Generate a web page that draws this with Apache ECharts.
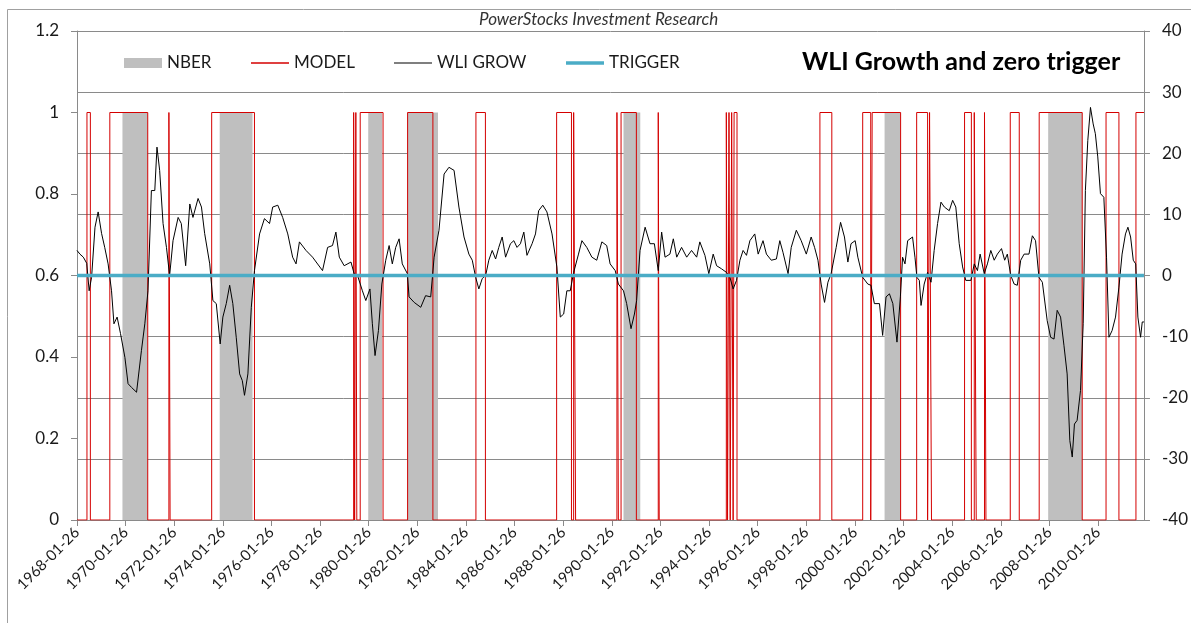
<!DOCTYPE html>
<html>
<head>
<meta charset="utf-8">
<script src="https://cdn.jsdelivr.net/npm/echarts@6/dist/echarts.min.js"></script>
<style>
html,body{margin:0;padding:0;background:#fff;}
#chart{width:1191px;height:623px;}
</style>
</head>
<body>
<div id="chart"></div>
<script>
// ---- DATA ----
const X0 = 1968.07;      // 1968-01-26 as a decimal year (axis start)
const X_END = 2011.96;   // last data point
const tickLabels = ['1968-01-26','1970-01-26','1972-01-26','1974-01-26','1976-01-26','1978-01-26',
  '1980-01-26','1982-01-26','1984-01-26','1986-01-26','1988-01-26','1990-01-26','1992-01-26',
  '1994-01-26','1996-01-26','1998-01-26','2000-01-26','2002-01-26','2004-01-26','2006-01-26',
  '2008-01-26','2010-01-26'];
const leftTicks = [0, 0.2, 0.4, 0.6, 0.8, 1, 1.2];
const rightTicks = [-40, -30, -20, -10, 0, 10, 20, 30, 40];

// NBER recessions [start, end] (decimal years), height 1 on left axis
const nberPeriods = [
  [1969.94, 1970.98], [1973.94, 1975.29], [1980.05, 1980.62], [1981.65, 1982.92],
  [1990.55, 1991.24], [2001.29, 2001.95], [2008.02, 2009.42]
];

// MODEL = 1 during these periods, 0 otherwise (left axis)
const modelOnPeriods = [
  [1968.48, 1968.62], [1969.42, 1970.98], [1971.85, 1971.90], [1973.61, 1975.37],
  [1979.45, 1979.49], [1979.54, 1979.58], [1979.72, 1980.66], [1981.67, 1982.71],
  [1984.48, 1984.87], [1987.80, 1988.41], [1988.50, 1988.58], [1990.28, 1990.34],
  [1990.45, 1991.08], [1991.98, 1992.02], [1994.78, 1994.83], [1994.89, 1994.94],
  [1995.00, 1995.06], [1995.10, 1995.22], [1998.63, 1999.12], [2000.39, 2000.72],
  [2000.78, 2001.95], [2002.61, 2003.06], [2003.14, 2003.22], [2004.58, 2004.86],
  [2004.98, 2005.06], [2005.40, 2005.46], [2006.46, 2006.83], [2007.65, 2009.42],
  [2010.40, 2010.93], [2011.63, 2011.96]
];

// WLI growth (right axis): [decimal year, value]
const wliGrow = [
  [1968.07,4.1],[1968.19,3.5],[1968.33,3.0],[1968.47,2.0],[1968.57,-2.5],[1968.67,-0.3],
  [1968.81,7.9],[1968.94,10.4],[1969.08,6.9],[1969.21,4.6],[1969.35,1.9],[1969.49,-2.5],
  [1969.59,-7.9],[1969.72,-6.8],[1969.86,-9.5],[1970.04,-13.4],[1970.17,-17.7],[1970.31,-18.3],
  [1970.52,-19.1],[1970.72,-12.3],[1970.86,-7.9],[1970.99,-2.5],[1971.13,13.9],[1971.27,13.9],
  [1971.36,21.0],[1971.47,17.2],[1971.61,8.5],[1971.75,4.6],[1971.88,0.0],[1972.02,5.7],
  [1972.23,9.5],[1972.36,8.5],[1972.54,1.6],[1972.71,11.7],[1972.84,9.5],[1973.05,12.6],
  [1973.19,11.2],[1973.32,6.9],[1973.53,1.9],[1973.66,-4.1],[1973.80,-4.6],[1973.96,-11.2],
  [1974.07,-6.8],[1974.21,-4.6],[1974.35,-1.6],[1974.48,-4.6],[1974.62,-10.1],[1974.76,-16.1],
  [1974.87,-17.2],[1974.96,-19.6],[1975.10,-16.1],[1975.24,-5.2],[1975.37,0.8],[1975.58,6.8],
  [1975.78,9.3],[1975.99,8.5],[1976.12,11.2],[1976.33,11.5],[1976.53,9.5],[1976.74,6.8],
  [1976.94,3.0],[1977.08,1.9],[1977.22,5.5],[1977.49,4.1],[1977.76,3.0],[1978.17,0.8],
  [1978.38,4.6],[1978.58,4.9],[1978.72,7.1],[1978.86,3.0],[1979.06,1.6],[1979.34,2.2],
  [1979.47,0.3],[1979.61,0.0],[1979.68,0.3],[1979.81,-2.5],[1979.95,-4.1],[1980.12,-2.2],
  [1980.22,-7.9],[1980.33,-13.1],[1980.47,-9.0],[1980.61,-1.4],[1980.77,2.5],[1980.91,4.9],
  [1981.04,1.9],[1981.18,4.6],[1981.32,6.0],[1981.45,1.9],[1981.66,0.3],[1981.73,-3.5],
  [1981.94,-4.4],[1982.21,-5.2],[1982.41,-3.3],[1982.62,-3.5],[1982.76,3.0],[1982.96,7.4],
  [1983.17,16.6],[1983.37,17.7],[1983.58,17.2],[1983.78,11.2],[1983.99,6.3],[1984.19,3.5],
  [1984.33,2.5],[1984.47,-0.3],[1984.60,-2.2],[1984.74,-0.5],[1984.88,0.0],[1985.01,2.5],
  [1985.15,4.1],[1985.29,2.7],[1985.42,4.6],[1985.56,6.3],[1985.70,3.0],[1985.90,5.2],
  [1986.04,5.7],[1986.17,4.6],[1986.31,5.2],[1986.45,7.1],[1986.58,3.3],[1986.79,5.2],
  [1986.93,6.8],[1987.06,10.6],[1987.23,11.5],[1987.40,10.4],[1987.61,6.8],[1987.81,1.4],
  [1987.95,-6.8],[1988.09,-6.3],[1988.22,-2.5],[1988.36,-2.5],[1988.50,0.5],[1988.70,3.5],
  [1988.84,5.7],[1989.04,4.6],[1989.25,3.0],[1989.45,2.5],[1989.66,5.5],[1989.86,4.9],
  [1990.00,1.9],[1990.21,0.8],[1990.34,-1.4],[1990.55,-2.5],[1990.68,-4.6],[1990.86,-8.7],
  [1991.00,-6.3],[1991.09,-4.1],[1991.23,4.1],[1991.44,7.9],[1991.64,5.2],[1991.82,5.2],
  [1991.98,0.8],[1992.12,7.1],[1992.26,3.0],[1992.46,3.5],[1992.60,6.0],[1992.74,3.0],
  [1992.94,4.6],[1993.15,3.0],[1993.35,4.1],[1993.56,3.0],[1993.69,5.5],[1993.90,3.3],
  [1994.06,0.3],[1994.24,3.5],[1994.38,1.6],[1994.58,1.1],[1994.79,0.5],[1994.93,-0.3],
  [1995.06,-2.2],[1995.20,-0.8],[1995.34,2.5],[1995.47,4.1],[1995.61,3.3],[1995.75,5.7],
  [1995.95,6.8],[1996.09,3.5],[1996.29,5.7],[1996.43,3.5],[1996.63,2.5],[1996.84,2.7],
  [1996.98,5.7],[1997.11,3.8],[1997.32,0.3],[1997.45,4.6],[1997.66,7.4],[1997.86,5.7],
  [1998.07,3.5],[1998.27,6.3],[1998.41,4.6],[1998.55,2.5],[1998.68,-1.4],[1998.82,-4.4],
  [1998.96,-1.1],[1999.09,0.3],[1999.30,4.6],[1999.48,8.7],[1999.64,6.3],[1999.78,2.2],
  [1999.91,5.2],[2000.08,5.7],[2000.19,3.0],[2000.39,-0.3],[2000.60,-1.4],[2000.73,-1.6],
  [2000.87,-4.6],[2001.08,-4.6],[2001.21,-9.8],[2001.35,-3.5],[2001.49,-3.0],[2001.63,-4.6],
  [2001.80,-10.9],[2001.94,-3.5],[2002.03,3.0],[2002.13,1.9],[2002.24,5.7],[2002.44,6.3],
  [2002.54,3.0],[2002.62,-0.3],[2002.72,-0.8],[2002.79,-4.9],[2002.92,-1.4],[2003.06,0.5],
  [2003.20,-1.1],[2003.33,4.1],[2003.47,8.5],[2003.61,12.0],[2003.75,11.2],[2003.95,10.6],
  [2004.09,12.3],[2004.22,11.2],[2004.36,5.2],[2004.50,1.4],[2004.63,-0.8],[2004.84,-0.8],
  [2004.98,1.9],[2005.11,0.8],[2005.22,3.5],[2005.39,0.3],[2005.52,1.9],[2005.66,4.1],
  [2005.80,2.5],[2005.93,3.5],[2006.10,4.4],[2006.23,2.5],[2006.34,3.5],[2006.48,0.0],
  [2006.62,-1.4],[2006.75,-1.6],[2006.89,2.5],[2007.03,3.5],[2007.23,3.5],[2007.37,6.5],
  [2007.50,5.7],[2007.64,-0.3],[2007.78,-1.1],[2007.98,-7.4],[2008.12,-10.1],[2008.26,-10.4],
  [2008.39,-5.7],[2008.53,-6.8],[2008.67,-11.5],[2008.80,-16.1],[2008.91,-27.0],[2009.01,-29.7],
  [2009.10,-24.3],[2009.21,-23.7],[2009.35,-18.8],[2009.46,-7.9],[2009.55,13.9],[2009.65,22.1],
  [2009.76,27.5],[2009.87,24.8],[2009.96,23.2],[2010.06,19.4],[2010.17,13.4],[2010.31,12.8],
  [2010.42,3.0],[2010.52,-10.1],[2010.65,-9.0],[2010.79,-6.8],[2010.93,-1.9],[2011.06,3.5],
  [2011.20,6.8],[2011.30,7.9],[2011.41,6.3],[2011.52,2.5],[2011.62,1.9],[2011.71,-6.8],
  [2011.82,-10.1],[2011.89,-7.6],[2011.96,-7.6]
];

const triggerLevel = 0;

// ---- BUILD SERIES DATA ----
const toX = y => y - X0;
const nberData = nberPeriods.map(p => [toX(p[0]), toX(p[1])]);
const modelData = [[0, 0]];
modelOnPeriods.forEach(p => {
  modelData.push([toX(p[0]), 0], [toX(p[0]), 1], [toX(p[1]), 1]);
  if (p[1] < X_END) modelData.push([toX(p[1]), 0]);
});
if (modelOnPeriods[modelOnPeriods.length - 1][1] < X_END) modelData.push([toX(X_END), 0]);
const wliData = wliGrow.map(p => [toX(p[0]), p[1]]);
const triggerData = [[0, triggerLevel], [toX(X_END), triggerLevel]];

const FONT = 'Lato, "Open Sans", sans-serif';
const GRID_COLOR = '#8a8a8a';
const TXT = '#1a1a1a';
const RED = '#d40000';
const BLUE = '#4bacc6';
const GRAY = '#bfbfbf';

const chart = echarts.init(document.getElementById('chart'));
function legendAt(left, name, color, h) {
  return {
    orient: 'horizontal', left: left, top: 53, padding: 0, itemWidth: 38, itemHeight: h, itemGap: 5,
    selectedMode: false,
    textStyle: { fontFamily: FONT, fontSize: 17, color: TXT, lineHeight: 20 },
    data: [{ name: name, icon: 'rect', itemStyle: { color: color, borderWidth: 0 } }]
  };
}
chart.setOption({
  animation: false,
  backgroundColor: '#fff',
  title: [
    { text: 'PowerStocks Investment Research', left: 479, top: 11, padding: 0,
      textStyle: { fontFamily: FONT, fontSize: 17, fontStyle: 'italic', fontWeight: 'normal', color: '#333' } },
    { text: 'WLI Growth and zero trigger', left: 802, top: 49, padding: 0,
      textStyle: { fontFamily: FONT, fontSize: 25, fontWeight: 'bold', color: '#000' } }
  ],
  legend: [
    legendAt(124, 'NBER', GRAY, 10),
    legendAt(251, 'MODEL', RED, 1.4),
    legendAt(394, 'WLI GROW', '#000', 1.2),
    legendAt(566, 'TRIGGER', BLUE, 3.5)
  ],
  graphic: [
    { type: 'rect', shape: { x: 7.5, y: 9.5, width: 1300, height: 800 },
      style: { fill: null, stroke: '#a0a0a0', lineWidth: 1 }, silent: true, z: -10 }
  ],
  grid: { left: 77, right: 44, top: 31, bottom: 103, containLabel: false },
  xAxis: {
    type: 'value', min: 0, max: toX(X_END), interval: 2,
    axisLine: { show: true, onZero: false, lineStyle: { color: GRID_COLOR, width: 1 } },
    axisTick: { show: true, length: 6, inside: false, lineStyle: { color: GRID_COLOR } },
    splitLine: { show: false },
    axisLabel: {
      rotate: 45, margin: 10, fontFamily: FONT, fontSize: 15, color: TXT,
      showMaxLabel: false,
      formatter: v => {
        const i = Math.round(v / 2);
        return Math.abs(v - i * 2) < 0.01 && tickLabels[i] ? tickLabels[i] : '';
      }
    }
  },
  yAxis: [
    {
      type: 'value', position: 'left', min: leftTicks[0], max: leftTicks[leftTicks.length - 1], interval: 0.2,
      axisLine: { show: true, lineStyle: { color: GRID_COLOR } },
      axisTick: { show: true, length: 6, lineStyle: { color: GRID_COLOR } },
      splitLine: { show: false },
      axisLabel: { margin: 18, fontFamily: FONT, fontSize: 17, color: TXT,
        formatter: v => String(Math.round(v * 10) / 10) }
    },
    {
      type: 'value', position: 'right', min: rightTicks[0], max: rightTicks[rightTicks.length - 1], interval: 10,
      axisLine: { show: true, lineStyle: { color: GRID_COLOR } },
      axisTick: { show: true, length: 6, lineStyle: { color: GRID_COLOR } },
      splitLine: { show: true, lineStyle: { color: GRID_COLOR, width: 1 } },
      axisLabel: { margin: 18, fontFamily: FONT, fontSize: 17, color: TXT }
    }
  ],
  series: [
    {
      name: 'NBER', type: 'custom', xAxisIndex: 0, yAxisIndex: 0,
      itemStyle: { color: GRAY },
      encode: { x: [0, 1] },
      data: nberData,
      renderItem: (params, api) => {
        const p0 = api.coord([api.value(0), 1]);
        const p1 = api.coord([api.value(1), 0]);
        return { type: 'rect', shape: { x: p0[0], y: p0[1], width: p1[0] - p0[0], height: p1[1] - p0[1] },
          style: { fill: GRAY } };
      }
    },
    {
      name: 'MODEL', type: 'line', yAxisIndex: 0, symbol: 'none', data: modelData,
      lineStyle: { color: RED, width: 1 }, itemStyle: { color: RED }
    },
    {
      name: 'WLI GROW', type: 'line', yAxisIndex: 1, symbol: 'none', data: wliData,
      lineStyle: { color: '#000', width: 1 }, itemStyle: { color: '#000' }
    },
    {
      name: 'TRIGGER', type: 'line', yAxisIndex: 1, symbol: 'none', data: triggerData,
      lineStyle: { color: BLUE, width: 3.5 }, itemStyle: { color: BLUE }
    }
  ]
});
</script>
</body>
</html>
